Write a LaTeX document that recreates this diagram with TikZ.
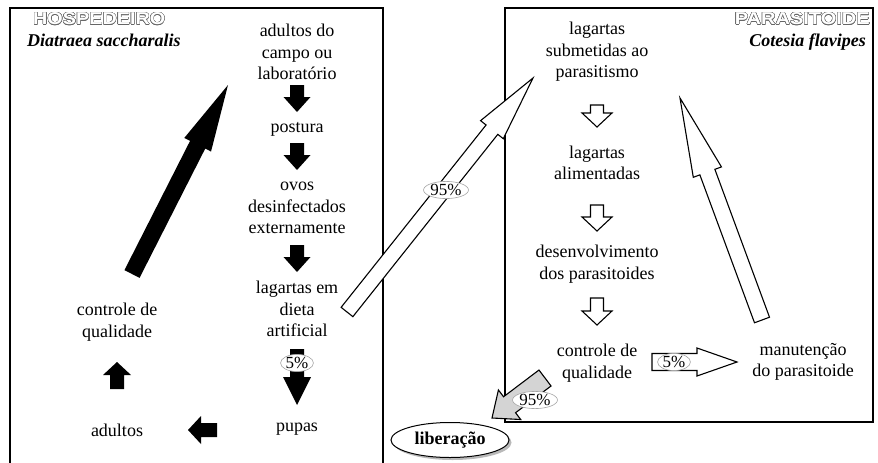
\documentclass[tikz,border=0pt]{standalone}
\usepackage{fontspec}
\setmainfont{Liberation Serif}
\newfontfamily\headfont{Liberation Sans}
\usepackage{contour}
\contourlength{0.35pt}
\usetikzlibrary{calc,shapes.geometric,shadows}

% block arrow: [style]{from}{to}{shaft half width}{head half width}{head length}
\newcommand\blockarrow[6][]{%
  \coordinate (hb) at ($(#3)!#6!(#2)$);
  \path[#1] ($(#2)!#4!90:(#3)$) -- ($(hb)!#4!90:(#3)$) -- ($(hb)!#5!90:(#3)$) -- (#3)
    -- ($(hb)!#5!-90:(#3)$) -- ($(hb)!#4!-90:(#3)$) -- ($(#2)!#4!-90:(#3)$) -- cycle;}

\begin{document}
\begin{tikzpicture}[x=1pt,y=-1pt,
  txt/.style={align=center, font=\fontsize{18}{21.5}\selectfont, inner sep=0pt},
  pct/.style={ellipse, draw=black!35, fill=white, inner sep=0.3pt, line width=0.6pt,
              font=\fontsize{17}{17}\selectfont},
  blackarr/.style={fill=black},
  hollowarr/.style={draw=black, fill=white, line width=1.1pt, line join=miter},
  grayarr/.style={draw=black, fill=black!17, line width=1.1pt, line join=miter},
  frame/.style={line width=1.5pt}]
\useasboundingbox (0,0) rectangle (878,463);

% frames
\draw[frame] (10,463) -- (10,8) -- (383,8) -- (383,463);
\draw[frame] (505,8) rectangle (873,422);

% headers
\node[inner sep=0, anchor=west] (h1) at (33,19)
  {\resizebox{132pt}{12pt}{\headfont\bfseries\fontsize{16}{16}\selectfont\textcolor{white}{\contour{black!60}{HOSPEDEIRO}}}};
\node[inner sep=0, anchor=east] (h2) at (870,19)
  {\resizebox{135pt}{12pt}{\headfont\bfseries\fontsize{16}{16}\selectfont\textcolor{white}{\contour{black!60}{PARASITOIDE}}}};
\node[anchor=base west, inner sep=0, font=\fontsize{18}{18}\selectfont\bfseries\itshape] (t1) at (27,46) {Diatraea saccharalis};
\node[anchor=base east, inner sep=0, font=\fontsize{18}{18}\selectfont\bfseries\itshape] (t2) at (866,46) {Cotesia flavipes};

% left column
\node[txt] (a1) at (297,52) {adultos do\\campo ou\\laboratório};
\node[txt] (a2) at (297,129) {postura};
\node[txt] (a3) at (297,208) {ovos\\desinfectados\\externamente};
\node[txt] (a4) at (297,309) {lagartas em\\dieta\\artificial};
\node[txt] (a5) at (297,429) {pupas};
\node[txt] (a6) at (117,430) {adultos};
\node[txt] (a7) at (117,322) {controle de\\qualidade};

% right column
\node[txt] (b1) at (597,52) {lagartas\\submetidas ao\\parasitismo};
\node[txt] (b2) at (597,163) {lagartas\\alimentadas};
\node[txt] (b3) at (597,264) {desenvolvimento\\dos parasitoides};
\node[txt] (b4) at (597,363) {controle de\\qualidade};
\node[txt] (b5) at (803,362) {manutenção\\do parasitoide};

% arrow end points
\coordinate (k1s) at (297,85);  \coordinate (k1e) at (297,112);
\coordinate (k2s) at (297,143); \coordinate (k2e) at (297,170);
\coordinate (k3s) at (297,245); \coordinate (k3e) at (297,272);
\coordinate (k4s) at (297,349); \coordinate (k4e) at (297,405);
\coordinate (k5s) at (217,430); \coordinate (k5e) at (188,430);
\coordinate (k6s) at (117,389); \coordinate (k6e) at (117,362);
\coordinate (k7s) at (132,274); \coordinate (k7e) at (228,85);
\coordinate (w1s) at (597,105); \coordinate (w1e) at (597,127);
\coordinate (w2s) at (597,205); \coordinate (w2e) at (597,231);
\coordinate (w3s) at (597,298); \coordinate (w3e) at (597,325);
\coordinate (w4s) at (652,362); \coordinate (w4e) at (737,362);
\coordinate (w5s) at (347,312); \coordinate (w5e) at (533,78);
\coordinate (w6s) at (762,320); \coordinate (w6e) at (680,98);
\coordinate (g1s) at (545,378); \coordinate (g1e) at (492,418);

% black arrows (host)
\blockarrow[blackarr]{k1s}{k1e}{7pt}{13.5pt}{15pt}
\blockarrow[blackarr]{k2s}{k2e}{7pt}{13.5pt}{15pt}
\blockarrow[blackarr]{k3s}{k3e}{7pt}{13.5pt}{15pt}
\blockarrow[blackarr]{k4s}{k4e}{7pt}{14pt}{28pt}
\blockarrow[blackarr]{k5s}{k5e}{7pt}{14pt}{13pt}
\blockarrow[blackarr]{k6s}{k6e}{7pt}{14pt}{13pt}
\blockarrow[blackarr]{k7s}{k7e}{8.5pt}{15pt}{67pt}

% hollow arrows (parasitoid)
\blockarrow[hollowarr]{w1s}{w1e}{6.5pt}{15pt}{14pt}
\blockarrow[hollowarr]{w2s}{w2e}{6.5pt}{15pt}{14pt}
\blockarrow[hollowarr]{w3s}{w3e}{6.5pt}{15pt}{14pt}
\blockarrow[hollowarr]{w4s}{w4e}{8.5pt}{14pt}{40pt}
\blockarrow[hollowarr]{w5s}{w5e}{7.5pt}{14.5pt}{66pt}
\blockarrow[hollowarr]{w6s}{w6e}{8pt}{15pt}{79pt}
\blockarrow[grayarr]{g1s}{g1e}{10pt}{18.5pt}{22pt}

% percentages
\node[pct] (p1) at (297,363) {5\%};
\node[pct] (p2) at (446,190) {95\%};
\node[pct] (p3) at (674,362) {5\%};
\node[pct] (p4) at (535,400) {95\%};

% release
\node[ellipse, draw, fill=white, line width=1pt, minimum width=118pt, minimum height=35pt,
      inner sep=0pt, drop shadow={shadow xshift=2.5pt, shadow yshift=-2.5pt, fill=black!55},
      font=\fontsize{18}{18}\selectfont\bfseries] (lib) at (450,440) {liberação};
\end{tikzpicture}
\end{document}
